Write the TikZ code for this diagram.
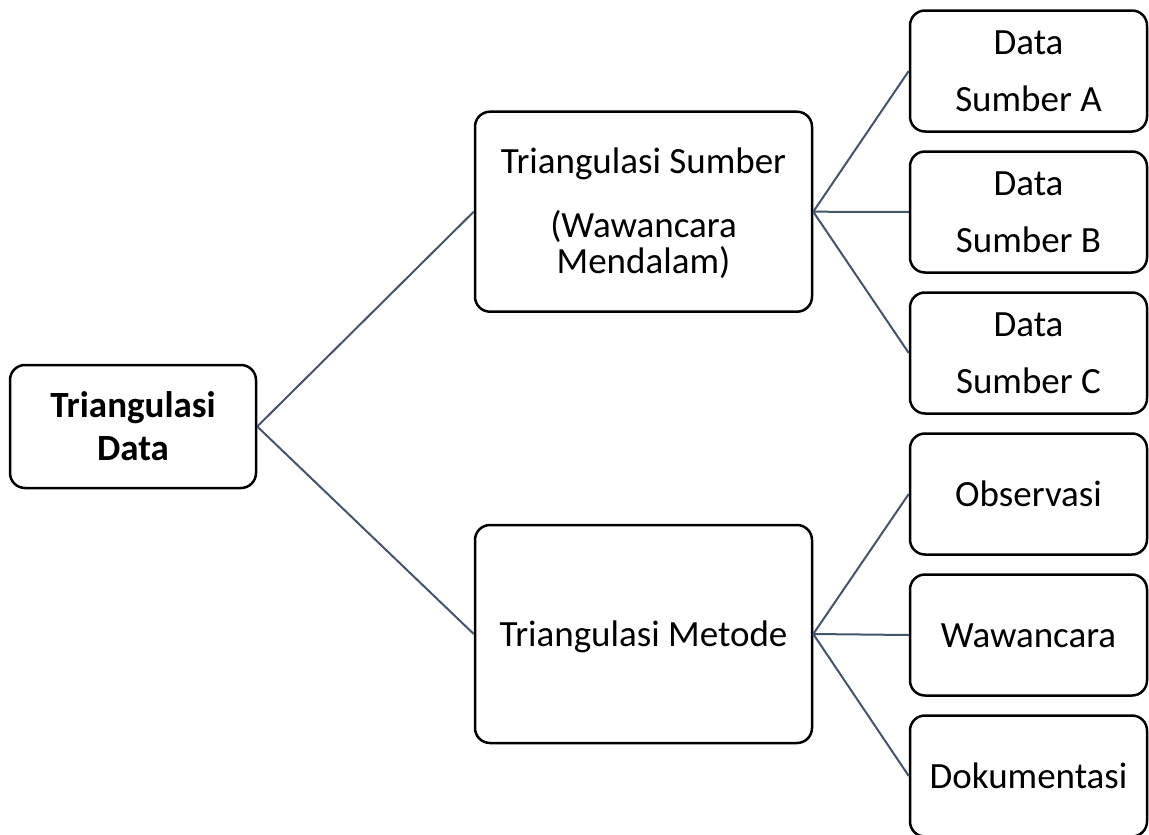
\documentclass[tikz,border=0pt]{standalone}
\usepackage{fontspec}
\setmainfont{Carlito}
\definecolor{linkcol}{HTML}{44546A}
\newcommand{\stk}[2]{\begin{tabular}[t]{@{}c@{}}#1\\#2\end{tabular}}
\begin{document}
\begin{tikzpicture}[x=1pt,y=-1pt,
  box/.style={draw=black, line width=2.5pt, rounded corners=15pt, inner sep=0pt,
    text height=24pt, text depth=0pt, fill=white,
    font=\fontsize{37}{57}\selectfont},
  leaf/.style={box, minimum width=237pt, minimum height=121pt},
  mid/.style={box, minimum width=337pt},
  link/.style={draw=linkcol, line width=2pt}]
\useasboundingbox (0,0) rectangle (1149,835);
\clip (0,0) rectangle (1149,835);
% nodes
\node[box, minimum width=246pt, minimum height=123pt, text depth=43pt,
  font=\fontsize{37}{43}\selectfont\bfseries] (root) at (133,426.5) {\stk{Triangulasi}{Data}};
\node[mid, minimum height=200pt, text depth=100.8pt,
  font=\fontsize{37}{31}\selectfont] (S) at (643.5,211.7)
  {\begin{tabular}[t]{@{}c@{}}Triangulasi Sumber\\[27.4pt](Wawancara\\Mendalam)\end{tabular}};
\node[mid, minimum height=218pt] (M) at (643.5,634) {Triangulasi Metode};
\node[leaf, text depth=58pt] (A) at (1028.5,71) {\stk{Data}{Sumber A}};
\node[leaf, text depth=58pt] (B) at (1028.5,212) {\stk{Data}{Sumber B}};
\node[leaf, text depth=58pt] (C) at (1028.5,353) {\stk{Data}{Sumber C}};
\node[leaf] (O) at (1028.5,494) {Observasi};
\node[leaf] (W) at (1028.5,635) {Wawancara};
\node[leaf] (D) at (1028.5,776) {Dokumentasi};
% connectors
\draw[link] (root.east) -- (S.west);
\draw[link] (root.east) -- (M.west);
\draw[link] (S.east) -- (A.west);
\draw[link] (S.east) -- (B.west);
\draw[link] (S.east) -- (C.west);
\draw[link] (M.east) -- (O.west);
\draw[link] (M.east) -- (W.west);
\draw[link] (M.east) -- (D.west);
\end{tikzpicture}
\end{document}
